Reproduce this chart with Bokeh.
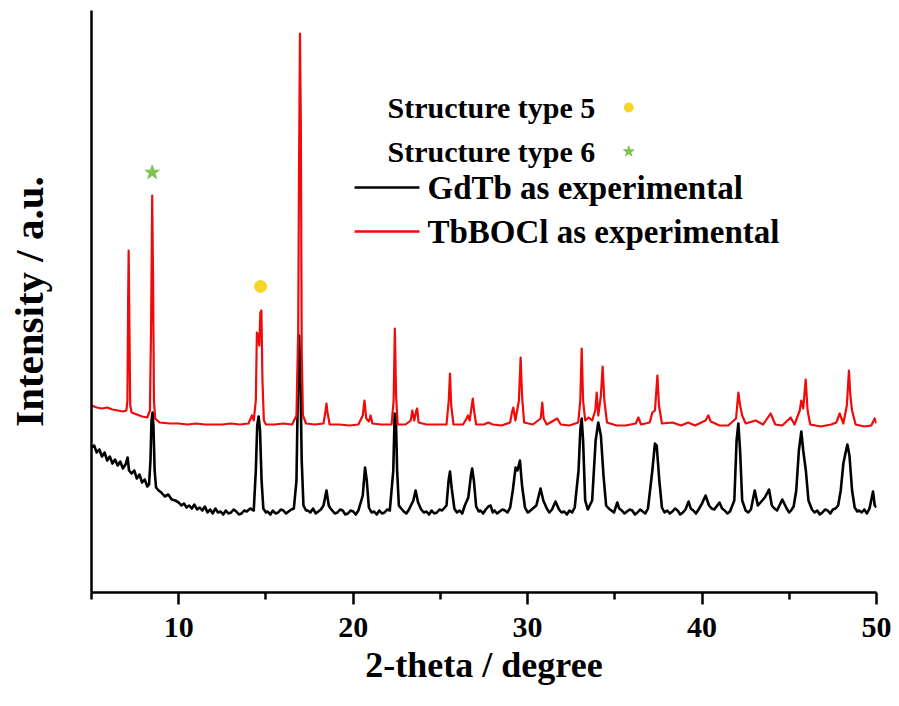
from bokeh.plotting import figure
from bokeh.models import FixedTicker, Range1d, Label
from bokeh.embed import file_html
from bokeh.resources import INLINE
from bokeh.core.properties import value

# ---------------- data ----------------
theta_tbbocl = [5.0, 5.3, 5.6, 5.9, 6.2, 6.5, 6.8, 7.0, 7.06, 7.10, 7.13, 7.17, 7.22, 7.3, 7.6, 7.9, 8.2,
                8.35, 8.42, 8.48, 8.53, 8.58, 8.65, 8.9, 9.5, 10.0, 10.5, 11.0, 11.5, 12.0, 12.5, 13.0,
                13.5, 14.0, 14.2, 14.3, 14.42, 14.48, 14.55, 14.62, 14.68, 14.74, 14.80, 14.88, 15.0,
                15.5, 16.0, 16.5, 16.75, 16.85, 16.90, 16.95, 17.0, 17.05, 17.12, 17.3, 17.8, 18.3,
                18.42, 18.47, 18.53, 18.65, 19.2, 19.8, 20.3, 20.55, 20.65, 20.75, 20.9, 21.0, 21.1,
                21.6, 22.2, 22.32, 22.39, 22.46, 22.55, 23.0, 23.3, 23.39, 23.5, 23.62, 23.67, 23.75,
                24.2, 24.8, 25.35, 25.48, 25.55, 25.62, 25.75, 26.3, 26.5, 26.58, 26.68, 26.8, 26.86,
                26.93, 27.05, 27.5, 27.75, 28.0, 28.5, 29.0, 29.1, 29.18, 29.3, 29.5, 29.6, 29.68, 29.8,
                30.3, 30.75, 30.84, 30.92, 31.1, 31.7, 31.9, 32.4, 32.9, 33.02, 33.1, 33.18, 33.3, 33.5,
                33.7, 33.88, 33.96, 34.05, 34.2, 34.3, 34.4, 34.55, 35.1, 35.6, 36.2, 36.35, 36.5, 37.0,
                37.15, 37.3, 37.44, 37.53, 37.7, 38.3, 38.8, 39.2, 39.6, 40.2, 40.36, 40.5, 41.0, 41.5,
                41.95, 42.08, 42.18, 42.3, 42.5, 43.07, 43.5, 43.93, 44.2, 44.6, 45.08, 45.3, 45.6,
                45.69, 45.8, 45.94, 46.05, 46.2, 46.8, 47.4, 47.7, 47.89, 48.1, 48.3, 48.42, 48.5, 48.6,
                48.8, 49.3, 49.7, 49.9, 50.0]
int_tbbocl = [187, 185, 184, 185, 183, 182, 181, 182, 192, 292, 342, 272, 187, 180, 178, 176, 175,
              182, 272, 397, 312, 192, 174, 170, 169, 169, 168, 169, 168, 168, 168, 169,
              168, 169, 177, 172, 192, 260, 257, 247, 280, 282, 212, 172, 168,
              168, 169, 168, 177, 262, 432, 559, 472, 242, 177, 169, 168, 169,
              182, 189, 180, 168, 168, 167, 168, 177, 192, 174, 171, 177, 169,
              168, 168, 192, 264, 197, 168, 168, 172, 182, 172, 182, 184, 170,
              168, 168, 168, 192, 219, 187, 168, 168, 174, 177, 172, 187, 194,
              182, 168, 168, 170, 168, 167, 170, 180, 185, 172, 192, 235, 197, 170,
              168, 174, 190, 174, 168, 174, 168, 167, 170, 192, 244, 192, 172, 175,
              172, 182, 200, 177, 197, 226, 192, 170, 167, 167, 169, 175, 168, 170,
              180, 182, 217, 187, 169, 170, 167, 170, 167, 172, 177, 171, 167, 167,
              174, 200, 187, 177, 169, 172, 168, 179, 168, 167, 175, 168, 182,
              192, 184, 213, 182, 168, 166, 168, 170, 179, 169, 187, 222, 197, 182,
              168, 166, 167, 174, 169]

theta_gdtb = [5.0, 5.15, 5.3, 5.45, 5.6, 5.75, 5.9, 6.05, 6.2, 6.35, 6.5, 6.65, 6.8, 6.95, 7.07, 7.15,
              7.3, 7.45, 7.6, 7.75, 7.9, 8.05, 8.2, 8.3, 8.38, 8.44, 8.5, 8.55, 8.62, 8.7, 8.85, 9.0,
              9.2, 9.4, 9.6, 9.8, 10.0, 10.15, 10.3, 10.45, 10.6, 10.75, 10.9, 11.05, 11.2, 11.35,
              11.5, 11.65, 11.8, 11.95, 12.1, 12.25, 12.4, 12.55, 12.7, 12.85, 13.0,
              13.15, 13.3, 13.45, 13.6, 13.75, 13.9, 14.1, 14.3, 14.42, 14.5, 14.58, 14.66, 14.75,
              14.85, 15.0, 15.1, 15.25, 15.4, 15.55,
              15.7, 15.85, 16.0, 16.15, 16.3, 16.45, 16.6, 16.75, 16.84, 16.9, 16.97, 17.05, 17.15,
              17.3, 17.4, 17.55, 17.7, 17.85, 18.0,
              18.15, 18.3, 18.47, 18.6, 18.7, 18.8, 18.95, 19.1, 19.25, 19.4, 19.55, 19.7, 19.85,
              20.0, 20.15, 20.3, 20.55, 20.68, 20.78, 20.9,
              21.05, 21.2, 21.35, 21.5, 21.65, 21.8, 21.95, 22.1, 22.3, 22.38, 22.45, 22.52, 22.62,
              22.75, 22.9, 23.05, 23.2, 23.45, 23.58,
              23.72, 23.9, 24.05, 24.2, 24.35, 24.5, 24.65, 24.8, 24.95, 25.1, 25.35, 25.47, 25.55,
              25.65, 25.8, 25.95, 26.1, 26.25, 26.4,
              26.6, 26.75, 26.82, 26.92, 27.05, 27.2, 27.3, 27.45, 27.6, 27.75, 27.88, 28.0, 28.1,
              28.25, 28.4, 28.55, 28.7, 28.85, 29.0, 29.15,
              29.31, 29.42, 29.56, 29.68, 29.85, 30.0, 30.1, 30.3, 30.5, 30.74, 30.9, 31.1, 31.25,
              31.4, 31.6, 31.8, 31.95,
              32.1, 32.25, 32.4, 32.55, 32.7, 32.92, 33.02, 33.1, 33.18, 33.3, 33.45, 33.7, 33.9,
              34.05, 34.2,
              34.35, 34.5, 34.65, 34.8, 34.95, 35.14, 35.25, 35.4, 35.55, 35.7, 35.85, 36.0, 36.15,
              36.3, 36.45, 36.6, 36.75, 36.9, 37.15, 37.3, 37.4,
              37.55, 37.7, 37.85, 38.0, 38.15, 38.3, 38.45, 38.6, 38.75, 38.9, 39.05, 39.23, 39.35,
              39.5, 39.65, 39.8, 40.0, 40.2, 40.4, 40.55, 40.7, 41.0,
              41.15, 41.3, 41.45, 41.6, 41.85, 41.98, 42.08, 42.18, 42.3, 42.5, 42.65, 42.8, 43.02,
              43.2, 43.45, 43.6,
              43.84, 44.0, 44.15, 44.3, 44.6, 44.85, 45.0, 45.1, 45.25, 45.4, 45.55, 45.69, 45.8,
              45.95, 46.1, 46.3,
              46.45, 46.6, 46.75, 46.9, 47.05, 47.2, 47.35, 47.5, 47.65, 47.8, 47.95, 48.1, 48.23,
              48.33, 48.45, 48.6, 48.75, 48.9, 49.0,
              49.15, 49.3, 49.45, 49.6, 49.8, 49.9, 50.0]
int_gdtb = [145, 147, 140, 143, 136, 140, 132, 136, 129, 133, 127, 131, 124, 128, 135, 122,
            119, 122, 114, 118, 110, 113, 106, 108, 132, 172, 180, 167, 122, 105, 102, 100,
            96, 98, 93, 92, 90, 87, 89, 85, 87, 84, 88, 83, 85, 82,
            86, 80, 83, 79, 84, 80, 81, 78, 82, 79, 80,
            83, 81, 78, 79, 82, 81, 84, 82, 122, 167, 176, 162, 112,
            84, 80, 81, 78, 82, 79,
            80, 83, 82, 79, 81, 83, 84, 112, 212, 257, 222, 132, 87,
            82, 82, 80, 84, 79, 81,
            83, 87, 102, 87, 84, 82, 79, 80, 83, 82, 78, 79, 82,
            81, 78, 82, 97, 125, 112, 85,
            80, 81, 78, 82, 79, 80, 83, 82, 122, 179, 174, 122, 87,
            84, 81, 79, 83, 92, 102,
            90, 83, 80, 81, 78, 82, 79, 80, 83, 82, 87, 112, 121,
            104, 84, 80, 82, 79, 87,
            95, 117, 124, 112, 86, 81, 82, 79, 83, 86, 87, 80, 82,
            79, 81, 83, 82, 80, 85, 102,
            125, 122, 132, 107, 85, 80, 81, 84, 87, 104, 92, 84, 80,
            83, 91, 83, 80,
            81, 78, 82, 80, 85, 122, 162, 174, 152, 92, 83, 92, 152,
            170, 157,
            117, 87, 84, 82, 80, 90, 84, 82, 79, 81, 83, 82, 78,
            80, 83, 81, 79, 84, 122, 149, 147,
            112, 85, 80, 82, 79, 81, 84, 82, 78, 80, 83, 91, 84,
            82, 79, 83, 89, 97, 87, 84, 83, 90,
            84, 82, 79, 81, 92, 152, 169, 142, 92, 82, 80, 83, 102,
            87, 92, 95,
            103, 87, 84, 82, 93, 84, 80, 82, 86, 102, 142, 161, 142,
            122, 92, 83,
            80, 82, 78, 80, 83, 82, 79, 83, 84, 87, 102, 129, 140,
            148, 137, 102, 85, 81, 82,
            80, 83, 79, 84, 101, 87, 85]

# phase markers (position of the symbol above the peak)
type5_theta = [14.69]
type5_int = [306]
type6_theta = [8.48]
type6_int = [420]

x_ticks = [10, 20, 30, 40, 50]
x_minor_ticks = [5, 15, 25, 35, 45]

series_names = ["GdTb as experimental", "TbBOCl as experimental"]
marker_names = ["Structure type 5", "Structure type 6"]

# ---------------- styling ----------------
FONT = "Liberation Serif"
RED = "#f00a0a"
BLACK = "#000000"
YELLOW = "#f7d526"
GREEN = "#7cc44c"

p = figure(frame_width=785, frame_height=582,
           x_range=Range1d(5, 50), y_range=Range1d(0, 582),
           output_backend="svg", toolbar_location=None,
           min_border_left=91, min_border_right=23, min_border_top=10, min_border_bottom=114)
p.outline_line_color = None
p.xgrid.visible = False
p.ygrid.visible = False
p.background_fill_color = "white"
p.border_fill_color = "white"

# curves
p.line(theta_gdtb, int_gdtb, color=BLACK, line_width=2.6, line_join="round")
p.line(theta_tbbocl, int_tbbocl, color=RED, line_width=2.2, line_join="round")

# phase markers
p.scatter(type5_theta, type5_int, marker="circle", size=12, color=YELLOW)
p.scatter(type6_theta, type6_int, marker="star", size=15, color=GREEN)

# x axis
xa = p.xaxis[0]
xa.ticker = FixedTicker(ticks=x_ticks, minor_ticks=x_minor_ticks)
xa.axis_line_width = 2.5
xa.major_tick_line_width = 2.5
xa.minor_tick_line_width = 2.5
xa.major_tick_in = 0
xa.major_tick_out = 12
xa.minor_tick_in = 0
xa.minor_tick_out = 7
xa.major_label_text_font = FONT
xa.major_label_text_font_style = "bold"
xa.major_label_text_font_size = "30px"
xa.major_label_text_color = "black"
xa.major_label_standoff = 13
xa.axis_label = "2-theta / degree"
xa.axis_label_text_font = FONT
xa.axis_label_text_font_style = "bold"
xa.axis_label_text_font_size = "36px"
xa.axis_label_text_color = "black"
xa.axis_label_standoff = 5

# y axis
ya = p.yaxis[0]
ya.ticker = FixedTicker(ticks=[])
ya.axis_line_width = 2.5
ya.major_tick_out = 0
ya.major_tick_in = 0
ya.minor_tick_out = 0
ya.minor_tick_in = 0
ya.major_label_standoff = 0
ya.axis_label = "Intensity / a.u."
ya.axis_label_text_font = FONT
ya.axis_label_text_font_style = "bold"
ya.axis_label_text_font_size = "41px"
ya.axis_label_text_color = "black"
ya.axis_label_standoff = 40

# legend (drawn by hand: text then symbol for the phase markers)
leg_text_x = 21.97
leg_marker_x = 35.8
leg_line_x0, leg_line_x1 = 20.08, 23.8
leg_series_text_x = 24.26
leg_rows = [485, 441, 405, 361]

for name, row in zip(marker_names, leg_rows[:2]):
    p.add_layout(Label(x=leg_text_x, y=row, text=name, text_font=FONT, text_font_style="bold",
                       text_font_size="30px", text_baseline="middle", text_align="left",
                       text_color="black"))
p.scatter([leg_marker_x], [leg_rows[0]], marker="circle", size=9, color=YELLOW)
p.scatter([leg_marker_x], [leg_rows[1]], marker="star", size=11, color=GREEN)

for name, row, col in zip(series_names, leg_rows[2:], [BLACK, RED]):
    p.segment(x0=[leg_line_x0], y0=[row], x1=[leg_line_x1], y1=[row], line_color=col, line_width=2.5)
    p.add_layout(Label(x=leg_series_text_x, y=row, text=name, text_font=FONT, text_font_style="bold",
                       text_font_size="33px", text_baseline="middle", text_align="left",
                       text_color="black"))

open("out.html", "w").write(file_html(p, INLINE))
